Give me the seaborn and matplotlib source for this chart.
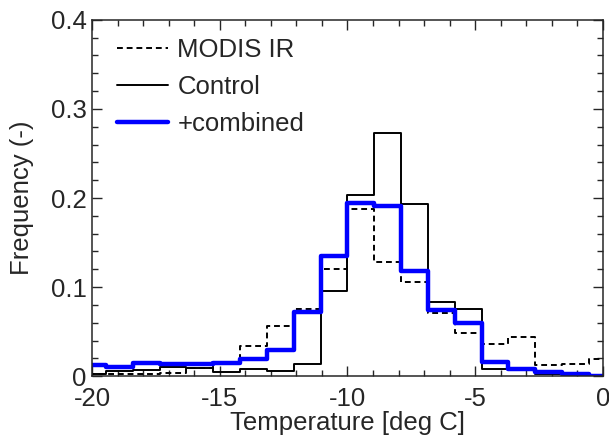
#-step histograms of cloud top temperature: MODIS vs model runs
import matplotlib
matplotlib.use('Agg')
import matplotlib.pyplot as plt
from matplotlib.ticker import MultipleLocator
import seaborn as sns
import numpy as np

#---data (bin edges in deg C, frequency per bin)
bin_edges = [-20.5, -19.45, -18.4, -17.35, -16.3, -15.25, -14.2, -13.15, -12.1, -11.05,
             -10.0, -8.95, -7.9, -6.85, -5.8, -4.75, -3.7, -2.65, -1.6, -0.55, 0.5]
bin_centers = [-19.975, -18.925, -17.875, -16.825, -15.775, -14.725, -13.675, -12.625, -11.575, -10.525,
               -9.475, -8.425, -7.375, -6.325, -5.275, -4.225, -3.175, -2.125, -1.075, -0.025]

modis = [0.002, 0.003, 0.003, 0.004, 0.009, 0.016, 0.034, 0.056, 0.075, 0.120,
         0.188, 0.128, 0.106, 0.071, 0.049, 0.036, 0.044, 0.012, 0.014, 0.019]
control = [0.003, 0.006, 0.0065, 0.0105, 0.0095, 0.005, 0.0075, 0.006, 0.014, 0.096,
           0.203, 0.273, 0.193, 0.083, 0.075, 0.0086, 0.007, 0.003, 0.002, 0.001]
combined = [0.012, 0.010, 0.015, 0.014, 0.014, 0.015, 0.019, 0.029, 0.072, 0.135,
            0.194, 0.191, 0.118, 0.074, 0.060, 0.016, 0.0075, 0.005, 0.002, 0.0]

sns.set_style('ticks')
plt.rcParams['font.family'] = ['Liberation Sans', 'DejaVu Sans']
fs = 18.5

fig = plt.figure(figsize=(6.09, 4.41), dpi=100)
ax = fig.add_axes([0.151, 0.147, 0.839, 0.808])

sns.histplot(x=bin_centers, weights=modis, bins=bin_edges, element='step', fill=False,
             color='black', linewidth=1.4, linestyle=(0, (3, 2)), label='MODIS IR', ax=ax)
sns.histplot(x=bin_centers, weights=control, bins=bin_edges, element='step', fill=False,
             color='black', linewidth=1.4, label='Control', ax=ax)
sns.histplot(x=bin_centers, weights=combined, bins=bin_edges, element='step', fill=False,
             color='#0000ff', linewidth=3.2, label='+combined', ax=ax)

ax.set_xlim(-20, 0)
ax.set_ylim(0, 0.4)
ax.xaxis.set_minor_locator(MultipleLocator(1))
ax.yaxis.set_minor_locator(MultipleLocator(0.02))
ax.set_yticks([0, 0.1, 0.2, 0.3, 0.4])
ax.set_yticklabels(['0', '0.1', '0.2', '0.3', '0.4'])
ax.set_xticks([-20, -15, -10, -5, 0])
ax.set_xticklabels(['-20', '-15', '-10', '-5', '0'])
ax.tick_params(which='both', direction='in', top=True, right=True, labelsize=fs, width=1)
ax.tick_params(which='major', length=7)
ax.tick_params(axis='x', which='major', pad=8)
ax.tick_params(axis='y', which='major', pad=4)
ax.tick_params(which='minor', length=4)
for s in ax.spines.values():
    s.set_linewidth(1.1)

ax.set_xlabel('Temperature [deg C]', fontsize=fs, labelpad=0)
ax.set_ylabel('Frequency (-)', fontsize=fs, labelpad=12)

ax.legend(loc='upper left', frameon=False, fontsize=fs, handlelength=2.0,
          handletextpad=0.35, labelspacing=0.5, borderpad=0, borderaxespad=0,
          bbox_to_anchor=(0.049, 0.948))

fig.savefig('out.png', dpi=100)
